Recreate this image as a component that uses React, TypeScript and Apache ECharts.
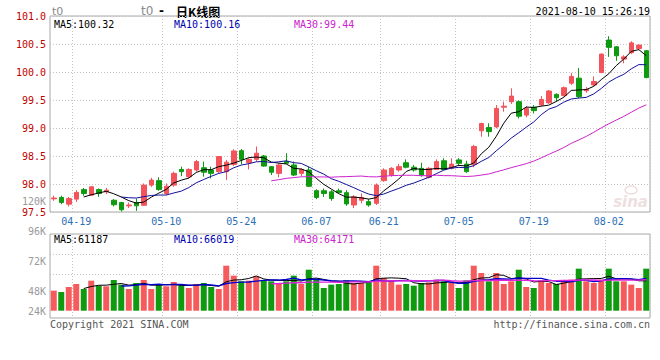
import React, { useEffect, useRef } from 'react';
import * as echarts from 'echarts';

const dates = [
  '04-14','04-15','04-16','04-19','04-20','04-21','04-22','04-23','04-26','04-27','04-28','04-29','04-30',
  '05-06','05-07','05-10','05-11','05-12','05-13','05-14','05-17','05-18','05-19','05-20','05-21','05-24','05-25','05-26','05-27','05-28','05-31',
  '06-01','06-02','06-03','06-04','06-07','06-08','06-09','06-10','06-11','06-15','06-16','06-17','06-18','06-21','06-22','06-23','06-24','06-25','06-28','06-29','06-30',
  '07-01','07-02','07-05','07-06','07-07','07-08','07-09','07-12','07-13','07-14','07-15','07-16','07-19','07-20','07-21','07-22','07-23','07-26','07-27','07-28','07-29','07-30',
  '08-02','08-03','08-04','08-05','08-06','08-09'
];
const labeledDates = ['04-19','05-10','05-24','06-07','06-21','07-05','07-19','08-02'];

const opens = [97.735, 97.76, 97.64, 97.73, 97.90, 97.80, 97.90, 97.86, 97.71, 97.67,
  97.61, 97.67, 97.62, 97.98, 98.06, 97.83, 97.98, 98.26, 98.13, 98.25,
  98.29, 98.25, 98.22, 98.22, 98.35, 98.595, 98.38, 98.44, 98.50, 98.31,
  98.19, 98.40, 98.34, 98.19, 98.25, 97.88, 97.88, 97.86, 97.88, 97.845,
  97.625, 97.71, 97.685, 97.655, 98.06, 98.16, 98.25, 98.38, 98.30, 98.28,
  98.12, 98.26, 98.415, 98.28, 98.43, 98.355, 98.35, 98.95, 99.01, 99.02,
  99.37, 99.47, 99.47, 99.23, 99.37, 99.41, 99.45, 99.60, 99.58, 99.80,
  99.89, 99.665, 99.77, 99.99, 100.57, 100.45, 100.23, 100.345, 100.42, 100.38];
const closes = [97.75, 97.67, 97.74, 97.85, 97.83, 97.95, 97.83, 97.89, 97.63, 97.54,
  97.625, 97.61, 97.98, 98.07, 97.90, 97.96, 98.19, 98.22, 98.26, 98.40,
  98.21, 98.19, 98.49, 98.39, 98.59, 98.44, 98.44, 98.55, 98.32, 98.21,
  98.34, 98.37, 98.16, 98.26, 97.96, 97.76, 97.83, 97.74, 97.85, 97.645,
  97.77, 97.76, 97.625, 97.98, 98.25, 98.28, 98.31, 98.30, 98.25, 98.16,
  98.28, 98.40, 98.26, 98.355, 98.37, 98.22, 98.67, 99.08, 98.935, 99.35,
  99.39, 99.57, 99.21, 99.35, 99.31, 99.51, 99.66, 99.54, 99.72, 99.92,
  99.56, 99.69, 99.83, 100.32, 100.44, 100.29, 100.27, 100.52, 100.48, 99.90];
const lows = [97.70, 97.64, 97.60, 97.68, 97.79, 97.79, 97.77, 97.82, 97.60, 97.51,
  97.57, 97.52, 97.61, 97.95, 97.88, 97.80, 97.95, 98.14, 98.10, 98.22,
  98.13, 98.10, 98.20, 98.07, 98.32, 98.35, 98.26, 98.40, 98.31, 98.16,
  98.12, 98.37, 98.14, 98.14, 97.95, 97.73, 97.77, 97.70, 97.83, 97.61,
  97.57, 97.655, 97.595, 97.625, 98.04, 98.13, 98.22, 98.28, 98.22, 98.13,
  98.10, 98.25, 98.25, 98.26, 98.32, 98.20, 98.30, 98.845, 98.845, 98.995,
  99.29, 99.43, 99.17, 99.19, 99.26, 99.39, 99.43, 99.47, 99.56, 99.77,
  99.53, 99.63, 99.75, 99.98, 100.27, 100.20, 100.155, 100.32, 100.39, 99.89];
const highs = [97.79, 97.79, 97.77, 97.89, 97.93, 97.96, 97.92, 97.93, 97.73, 97.68,
  97.67, 97.74, 98.01, 98.11, 98.12, 98.01, 98.22, 98.31, 98.28, 98.43,
  98.40, 98.31, 98.50, 98.43, 98.62, 98.625, 98.46, 98.67, 98.52, 98.32,
  98.37, 98.55, 98.40, 98.28, 98.31, 97.905, 97.92, 97.89, 97.92, 97.89,
  97.80, 97.83, 97.73, 98.01, 98.28, 98.30, 98.36, 98.44, 98.34, 98.38,
  98.30, 98.44, 98.46, 98.46, 98.46, 98.415, 98.70, 99.095, 99.085, 99.41,
  99.47, 99.71, 99.49, 99.39, 99.41, 99.57, 99.68, 99.62, 99.74, 99.98,
  100.07, 99.73, 99.92, 100.33, 100.64, 100.46, 100.30, 100.55, 100.50, 100.39];
const volumes = [41000, 38300, 48500, 54600, 44400, 61400, 51200, 49900, 62800, 53300,
  44400, 56700, 62800, 44400, 53300, 49900, 58700, 51200, 46400, 54600,
  56700, 48500, 44400, 92100, 71700, 60100, 61400, 70300, 61400, 60100,
  56700, 60100, 71700, 54600, 83900, 63500, 46400, 53300, 54600, 62100,
  56700, 56700, 60100, 92100, 66900, 60100, 53300, 54600, 51200, 56700,
  58000, 63500, 60100, 56700, 46400, 62100, 92100, 77100, 60100, 77100,
  54600, 60100, 83900, 48500, 46400, 62100, 56700, 54600, 62100, 63500,
  86000, 60100, 56700, 63500, 86000, 60100, 60100, 53300, 46400, 86000];

const priceTicks = { min: 97.5, max: 101.0, step: 0.5 };
const volTickValues = [24000, 48000, 72000, 96000, 120000];
const volGridValues = [73700, 114600];
const priceMaLabels = ['MA5:100.32', 'MA10:100.16', 'MA30:99.44'];
const volMaLabels = ['MA5:61187', 'MA10:66019', 'MA30:64171'];
const maPeriods = [5, 10, 30];

const RED = '#f3535b';
const VRED = '#f55a5c';
const GREEN = '#0f9a10';
const MONO = '"DejaVu Sans Mono", monospace';

function movingAverage(arr: number[], n: number) {
  return arr.map((_, i) => {
    if (i < n - 1) return null;
    let s = 0;
    for (let j = i - n + 1; j <= i; j++) s += arr[j];
    return +(s / n).toFixed(4);
  });
}

export default function App() {
  const ref = useRef<HTMLDivElement>(null);
  useEffect(() => {
    if (!ref.current) return;
    const chart = echarts.init(ref.current, null, { renderer: 'svg' });
    const labelSet = new Set(labeledDates);
    const showIdx = (i: number) => labelSet.has(dates[i]);
    const dotted = { color: '#c4c4c4', type: [1, 2] as any, width: 1 };
    const priceMaColors = ['#000000', '#10109a', '#cc22cc'];
    const volMaColors = ['#000000', '#0000c8', '#dd22dd'];
    const labelColors = ['#000000', '#0000b0', '#cc22cc'];

    const candleData = dates.map((_, i) => [opens[i], closes[i], lows[i], highs[i]]);
    const volData = volumes.map((v, i) => ({
      value: v,
      itemStyle: { color: closes[i] >= opens[i] ? VRED : GREEN },
    }));

    const maSeries: any[] = [];
    maPeriods.forEach((p, k) => {
      maSeries.push({
        type: 'line', xAxisIndex: 0, yAxisIndex: 0, data: movingAverage(closes, p),
        symbol: 'none', silent: true, lineStyle: { color: priceMaColors[k], width: 1 }, z: 5,
      });
      maSeries.push({
        type: 'line', xAxisIndex: 1, yAxisIndex: 1, data: movingAverage(volumes, p),
        symbol: 'none', silent: true, lineStyle: { color: volMaColors[k], width: k === 0 ? 1 : 1.4 }, z: 5,
      });
    });

    const texts: any[] = [
      { type: 'text', x: 52, y: 11, style: { text: 't0', font: '11px "DejaVu Sans"', fill: '#8a8a8a', verticalAlign: 'middle', textVerticalAlign: 'middle' } },
      { type: 'text', x: 141, y: 11, style: { text: 't0', font: '12px "DejaVu Sans"', fill: '#8a8a8a', verticalAlign: 'middle', textVerticalAlign: 'middle' } },
      { type: 'text', x: 159, y: 11, style: { text: '-', font: 'bold 12px "DejaVu Sans"', fill: '#000', verticalAlign: 'middle', textVerticalAlign: 'middle' } },
      { type: 'text', x: 176, y: 11, style: { text: '日K线图', font: 'bold 12px "Noto Sans CJK SC"', fill: '#000', verticalAlign: 'middle', textVerticalAlign: 'middle' } },
      { type: 'text', x: 650, y: 11, style: { text: '2021-08-10 15:26:19', font: '10px ' + MONO, fill: '#000', align: 'right', textAlign: 'right', verticalAlign: 'middle', textVerticalAlign: 'middle' } },
      { type: 'text', x: 50, y: 324, style: { text: 'Copyright 2021 SINA.COM', font: '10px ' + MONO, fill: '#555', verticalAlign: 'middle', textVerticalAlign: 'middle' } },
      { type: 'text', x: 650, y: 324, style: { text: 'http://finance.sina.com.cn', font: '10px ' + MONO, fill: '#555', align: 'right', textAlign: 'right', verticalAlign: 'middle', textVerticalAlign: 'middle' } },
      { type: 'ellipse', shape: { cx: 631, cy: 190, rx: 6, ry: 4 }, style: { fill: 'none', stroke: '#f0dede', lineWidth: 1.5 }, z: 1 },
      { type: 'text', x: 648, y: 202, style: { text: 'sina', font: 'italic bold 15px "DejaVu Sans"', fill: '#eee0e0', align: 'right', textAlign: 'right', verticalAlign: 'middle', textVerticalAlign: 'middle' }, z: 1 },
    ];
    const labelX = [54, 174, 294];
    priceMaLabels.forEach((t, k) => texts.push({ type: 'text', x: labelX[k], y: 24, z: 20, style: { text: t, font: '10px ' + MONO, fill: labelColors[k], verticalAlign: 'middle', textVerticalAlign: 'middle' } }));
    volMaLabels.forEach((t, k) => texts.push({ type: 'text', x: labelX[k], y: 239, z: 20, style: { text: t, font: '10px ' + MONO, fill: labelColors[k], verticalAlign: 'middle', textVerticalAlign: 'middle' } }));

    chart.setOption({
      animation: false,
      backgroundColor: '#fff',
      grid: [
        { left: 50, width: 600, top: 16, height: 196, show: true, borderColor: '#a8a8a8', borderWidth: 1, backgroundColor: 'transparent' },
        { left: 50, width: 600, top: 234, height: 84, show: true, borderColor: '#a8a8a8', borderWidth: 1, backgroundColor: 'transparent' },
        { left: 50, width: 600, top: 201, height: 150, show: false },
      ],
      xAxis: [
        {
          type: 'category', gridIndex: 0, data: dates, boundaryGap: true,
          axisLine: { show: false }, axisTick: { show: false },
          axisLabel: { interval: (i: number) => showIdx(i), color: '#2b6fb6', fontFamily: MONO, fontSize: 10, margin: 4 },
          splitLine: { show: true, interval: (i: number) => showIdx(i), lineStyle: dotted },
        },
        {
          type: 'category', gridIndex: 1, data: dates, boundaryGap: true,
          axisLine: { show: false }, axisTick: { show: false }, axisLabel: { show: false },
          splitLine: { show: true, interval: (i: number) => showIdx(i), lineStyle: dotted },
        },
        { type: 'value', gridIndex: 2, show: false, min: 0, max: 1 },
      ],
      yAxis: [
        {
          type: 'value', gridIndex: 0, min: priceTicks.min, max: priceTicks.max, interval: priceTicks.step,
          axisLine: { show: false }, axisTick: { show: false },
          axisLabel: { color: '#c00000', fontFamily: MONO, fontSize: 10, margin: 4, formatter: (v: number) => v.toFixed(1) },
          splitLine: { show: true, lineStyle: dotted },
        },
        {
          type: 'value', gridIndex: 1, min: -14940, max: 156950,
          axisLine: { show: false }, axisTick: { show: false }, axisLabel: { show: false },
          splitLine: { show: false },
        },
        {
          type: 'value', gridIndex: 2, min: 0, max: 120000,
          axisLine: { show: false }, axisTick: { show: false }, splitLine: { show: false },
          axisLabel: {
            customValues: volTickValues, color: '#9a9a9a', fontFamily: MONO, fontSize: 10, margin: 4,
            formatter: (v: number) => (v === volTickValues[0] ? '{lo|' + v / 1000 + 'K}' : v / 1000 + 'K'),
            rich: { lo: { padding: [0, 0, 20, 0], color: '#9a9a9a', fontFamily: MONO, fontSize: 10 } },
          },
        },
      ],
      series: [
        {
          type: 'candlestick', xAxisIndex: 0, yAxisIndex: 0, data: candleData, barWidth: 5, silent: true,
          itemStyle: { color: RED, color0: GREEN, borderColor: RED, borderColor0: GREEN, borderWidth: 1 },
        },
        {
          type: 'bar', xAxisIndex: 1, yAxisIndex: 1, data: volData, barWidth: 6, silent: true, z: 2,
          markLine: {
            silent: true, symbol: 'none', label: { show: false }, z: 1,
            lineStyle: dotted,
            data: volGridValues.map((v) => ({ yAxis: v })),
          },
        },
        ...maSeries,
      ],
      graphic: texts,
    });
    return () => chart.dispose();
  }, []);
  return <div ref={ref} style={{ position: 'absolute', left: 0, top: 0, width: 660, height: 360, background: '#fff' }} />;
}
